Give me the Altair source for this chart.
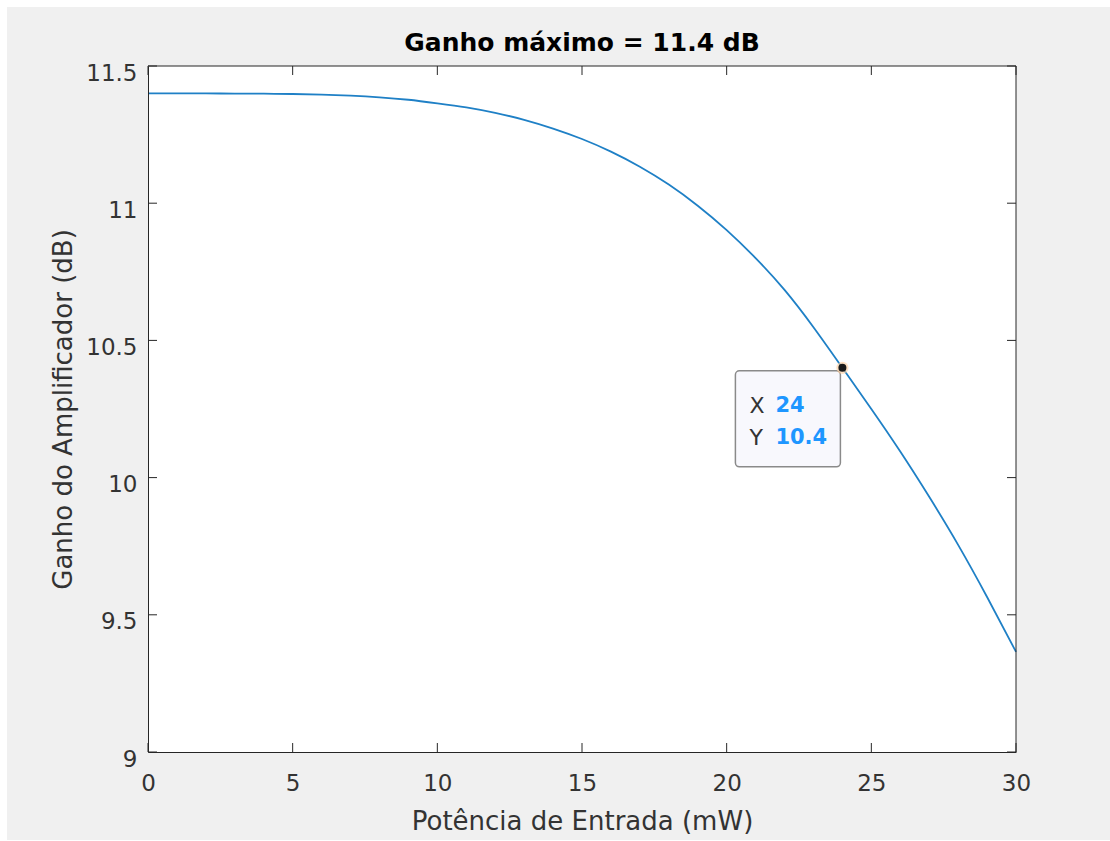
import altair as alt
import pandas as pd

# Amplifier gain versus input power
input_mw = [0, 1, 2, 3, 4, 5, 6, 7, 8, 9, 10, 11, 12, 13, 14, 15,
            16, 17, 18, 19, 20, 21, 22, 23, 24, 25, 26, 27, 28, 29, 30]
gain_db = [11.400, 11.400, 11.3999, 11.3995, 11.399, 11.398, 11.396, 11.392,
           11.386, 11.377, 11.364, 11.349, 11.329, 11.304, 11.272, 11.234,
           11.188, 11.133, 11.068, 10.991, 10.902, 10.800, 10.684, 10.548,
           10.400, 10.250, 10.095, 9.930, 9.755, 9.565, 9.365]

x_ticks = [0, 5, 10, 15, 20, 25, 30]
y_ticks = [9, 9.5, 10, 10.5, 11, 11.5]

tip_x = [24]
tip_y = [10.4]

title_text = "Ganho máximo = 11.4 dB"

W, H = 868, 686
FONT = "DejaVu Sans"
INK = "#262626"
FIG_BG = "#f0f0f0"

curve_df = pd.DataFrame({"x": input_mw, "y": gain_db})
xt_df = pd.DataFrame({"x": x_ticks})
yt_df = pd.DataFrame({"y": y_ticks})
tip_df = pd.DataFrame({"x": tip_x, "y": tip_y,
                       "xs": [f"{v:g}" for v in tip_x],
                       "ys": [f"{v:g}" for v in tip_y]})
one = pd.DataFrame({"k": [0]})

xs = alt.Scale(domain=[0, 30], nice=False, zero=False)
ys = alt.Scale(domain=[9, 11.5], nice=False, zero=False)

x_axis = alt.Axis(values=x_ticks, ticks=False, tickSize=0, grid=False,
                  labelPadding=20, labelFlush=False, labelOverlap=False,
                  titlePadding=13, zindex=1)
y_axis = alt.Axis(values=y_ticks, ticks=False, tickSize=0, grid=False,
                  labelPadding=11, labelOffset=7, labelFlush=False,
                  labelOverlap=False, titlePadding=9, zindex=1,
                  labelExpr="format(datum.value, '~g')")

X = alt.X("x:Q", scale=xs, title="Potência de Entrada (mW)", axis=x_axis)
Y = alt.Y("y:Q", scale=ys, title="Ganho do Amplificador (dB)", axis=y_axis)

# figure background and white axes box
fig_bg = alt.Chart(one).mark_rect(color=FIG_BG).encode(
    x=alt.value(-141), x2=alt.value(962), y=alt.value(-59), y2=alt.value(774))
axes_bg = alt.Chart(one).mark_rect(color="white").encode(
    x=alt.value(0), x2=alt.value(W), y=alt.value(0), y2=alt.value(H))

title = alt.Chart(one).mark_text(
    text=title_text, font=FONT, fontSize=25, fontWeight="bold", color="black",
    align="center", baseline="alphabetic").encode(
    x=alt.value(W / 2), y=alt.value(-15))

curve = alt.Chart(curve_df).mark_line(
    color="#1f80c6", strokeWidth=1.8, interpolate="natural").encode(x=X, y=Y)

# box edges on top and right
top_edge = alt.Chart(one).mark_rule(color=INK, strokeWidth=1).encode(
    x=alt.value(0), x2=alt.value(W), y=alt.value(0))
right_edge = alt.Chart(one).mark_rule(color=INK, strokeWidth=1).encode(
    x=alt.value(W), y=alt.value(0), y2=alt.value(H))

# inward tick marks on all four sides
tick_len = 9
xt_bottom = alt.Chart(xt_df).mark_rule(color=INK, strokeWidth=1).encode(
    x=X, y=alt.value(H), y2=alt.value(H - tick_len))
xt_top = alt.Chart(xt_df).mark_rule(color=INK, strokeWidth=1).encode(
    x=X, y=alt.value(0), y2=alt.value(tick_len))
yt_left = alt.Chart(yt_df).mark_rule(color=INK, strokeWidth=1).encode(
    y=Y, x=alt.value(0), x2=alt.value(tick_len))
yt_right = alt.Chart(yt_df).mark_rule(color=INK, strokeWidth=1).encode(
    y=Y, x=alt.value(W), x2=alt.value(W - tick_len))

# data tip: marker, box and labels
halo = alt.Chart(tip_df).mark_point(filled=True, color="#ffcf9e", opacity=0.6,
                                    size=150).encode(x=X, y=Y)
marker = alt.Chart(tip_df).mark_point(filled=True, color="#1a1a1a", opacity=1,
                                      size=64).encode(x=X, y=Y)
tip_box = alt.Chart(tip_df).mark_rect(
    fill="#f8f8fd", stroke="#8a8a8a", strokeWidth=1.5, cornerRadius=4,
    xOffset=-107, x2Offset=-2, yOffset=3, y2Offset=99).encode(
    x=X, x2="x:Q", y=Y, y2="y:Q")

lab_kw = dict(font=FONT, align="left", baseline="middle")
tip_xl = alt.Chart(tip_df).mark_text(text="X", color="#333333", fontSize=22,
                                     dx=-93, dy=38, **lab_kw).encode(x=X, y=Y)
tip_yl = alt.Chart(tip_df).mark_text(text="Y", color="#333333", fontSize=22,
                                     dx=-93, dy=70, **lab_kw).encode(x=X, y=Y)
tip_xv = alt.Chart(tip_df).mark_text(color="#1e96ff", fontWeight="bold", fontSize=21,
                                     dx=-67, dy=38, **lab_kw).encode(text="xs:N", x=X, y=Y)
tip_yv = alt.Chart(tip_df).mark_text(color="#1e96ff", fontWeight="bold", fontSize=21,
                                     dx=-67, dy=70, **lab_kw).encode(text="ys:N", x=X, y=Y)

chart = alt.layer(
    fig_bg, axes_bg, title, curve, top_edge, right_edge,
    xt_bottom, xt_top, yt_left, yt_right,
    tip_box, halo, marker, tip_xl, tip_yl, tip_xv, tip_yv,
).properties(
    width=W, height=H,
    padding={"left": 7, "top": 7, "right": 0, "bottom": 0},
    background="white",
).configure_view(
    stroke="transparent"
).configure_axis(
    domainColor=INK, domainWidth=1,
    labelFont=FONT, labelFontSize=23, labelColor="#333333",
    titleFont=FONT, titleFontSize=26, titleColor="#333333", titleFontWeight="normal",
)

chart.save("out.html", embed_options={"renderer": "svg", "actions": False})
